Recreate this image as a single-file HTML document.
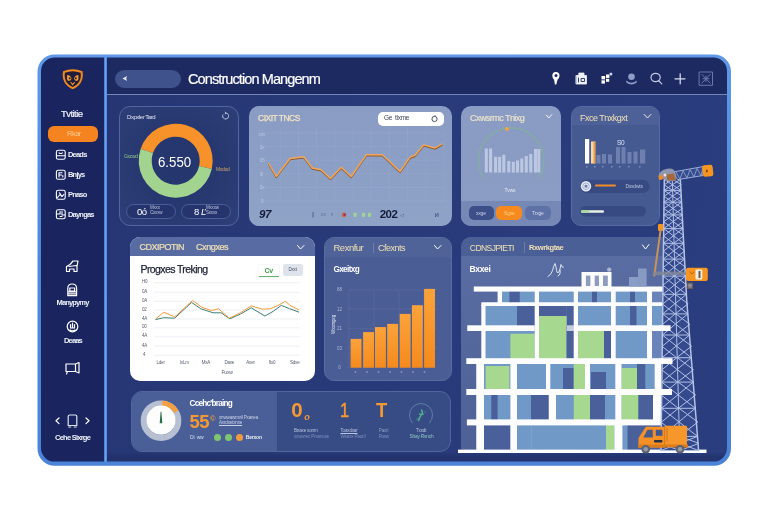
<!DOCTYPE html>
<html lang="en">
<head>
<meta charset="utf-8">
<title>Construction Management</title>
<style>
*{box-sizing:border-box;margin:0;padding:0}
html,body{width:768px;height:512px;overflow:hidden;background:#fff}
body{font-family:"Liberation Sans",sans-serif;color:#fff;position:relative}
.abs{position:absolute}
#frame{position:absolute;left:0;top:0;width:768px;height:512px}
#inner{position:absolute;left:40px;top:57px;width:688px;height:406px;border-radius:15px;background:linear-gradient(100deg,#253572 0%,#283978 35%,#2a3d7e 100%);overflow:hidden}
/* coordinates inside #inner are page coords minus (41,57) -> use wrapper shifted */
#cv{position:absolute;left:-40px;top:-57px;width:768px;height:512px}
#side{position:absolute;left:38px;top:54px;width:67px;height:412px;background:#1a255f}
#vdiv{position:absolute;left:104px;top:54px;width:3.400px;height:412px;background:linear-gradient(90deg,#3f74cc,#6aa2f0 50%,#4a84de)}
#head{position:absolute;left:107px;top:54px;width:625px;height:40px;background:#1d2a61}
#hline{position:absolute;left:107px;top:93.5px;width:625px;height:1px;background:#7485b8}
.card{position:absolute;border-radius:10px;overflow:hidden}
.t{position:absolute;white-space:nowrap;line-height:1}
.gold{color:#e3cf9c}
</style>
</head>
<body>
<div id="frame"><div id="inner"><div id="cv">
<div id="side"></div>
<div id="head"></div>
<div id="hline"></div>
<div id="vdiv"></div>

<div class="abs" style="left:107px;top:452px;width:625px;height:12px;background:linear-gradient(180deg,rgba(30,44,100,0),rgba(30,44,100,0.55) 40%)"></div>
<!--SIDEBAR-->
<svg class="abs" style="left:60px;top:66px" width="26" height="26" viewBox="60 66 26 26">
 <path d="M63 71.300 Q72.700 67.300 82.500 71.300 Q84.300 80 78.300 85.700 Q75 88.600 72.700 89.200 Q70.400 88.600 67.200 85.700 Q61.200 80 63 71.300 Z" fill="#f08a1d"/>
 <path d="M64.900 72.700 Q72.700 69.600 80.600 72.700 Q81.900 79.600 77 84.300 Q74.500 86.600 72.700 87.100 Q70.900 86.600 68.400 84.300 Q63.600 79.600 64.900 72.700 Z" fill="#1f1d38"/>
 <path d="M67.200 75 q3.300 0.300 4.300 3.300 q-0.300 2.400 -2.600 2.800 q-1.800 -0.500 -2 -2.500z M78.300 75 q-3.300 0.300 -4.300 3.300 q0.300 2.400 2.600 2.800 q1.800 -0.500 2 -2.500z" fill="#f39a35"/>
 <circle cx="69.700" cy="78.300" r="1" fill="#1f1d38"/><circle cx="75.800" cy="78.300" r="1" fill="#1f1d38"/>
 <path d="M71 82.500 l1.700 2.200 l1.700 -2.200" stroke="#f39a35" stroke-width="1.100" fill="none" stroke-linecap="round"/>
</svg>
<div class="t" style="left:61px;top:108.5px;font-size:9.500px;letter-spacing:-0.55px;color:#f0f3fa;-webkit-text-stroke:0.200px #f0f3fa">Tvtitie</div>
<div class="abs" style="left:47.5px;top:125.5px;width:50px;height:16.5px;border-radius:6px;background:#f5831f"></div>
<div class="t" style="left:67px;top:130.200px;font-size:7.500px;letter-spacing:-0.5px;color:#ffc98a">Rkar</div>
<svg class="abs" style="left:54px;top:148px" width="14" height="74" viewBox="54 148 14 74" fill="none" stroke="#fff" stroke-width="1.100" stroke-linejoin="round" stroke-linecap="round">
 <path d="M56.4 152.0 q0 -1.8 1.8 -1.8 h5.200 q1.800 0 1.800 1.800 v5.400 q0 1.800 -1.800 1.800 h-5.200 q-1.800 0 -1.800 -1.800z M56.600 155.800 h8.600 M59 152.800 q1.700 1.500 3.400 0"/>
 <path d="M56.4 172.0 q0 -1.8 1.8 -1.8 h5.200 q1.800 0 1.800 1.800 v5.400 q0 1.800 -1.800 1.800 h-5.200 q-1.800 0 -1.800 -1.800z M59 177 v-4.200 h3 M59 175 h2.500 M62.800 177 v-1.500"/>
 <path d="M56.4 192.1 q0 -1.8 1.8 -1.8 h5.200 q1.800 0 1.800 1.800 v5.400 q0 1.800 -1.800 1.800 h-5.200 q-1.800 0 -1.800 -1.800z M57.500 197.500 l2.500 -3 l2 2 l1.800 -1.800 M59.300 192.800 l1.500 1.500"/>
 <path d="M56.4 211.5 q0 -1.8 1.8 -1.8 h5.200 q1.800 0 1.800 1.800 v5.400 q0 1.800 -1.800 1.800 h-5.200 q-1.800 0 -1.800 -1.800z M56.600 214 h3.500 v-2.500 M62 211.500 v3.500 h2.800 M60 216.500 h2"/>
</svg>
<div class="t" style="left:68px;top:150.8px;font-size:7.500px;letter-spacing:-0.800px;color:#eef1f8;font-weight:bold">Deads</div>
<div class="t" style="left:68px;top:171px;font-size:7.500px;letter-spacing:-0.800px;color:#eef1f8;font-weight:bold">Bnjys</div>
<div class="t" style="left:68px;top:190.8px;font-size:7.500px;letter-spacing:-0.800px;color:#eef1f8;font-weight:bold">Pnaso</div>
<div class="t" style="left:68px;top:210.6px;font-size:7.500px;letter-spacing:-0.800px;color:#eef1f8;font-weight:bold">Dayngas</div>
<svg class="abs" style="left:60px;top:256px" width="26" height="124" viewBox="60 256 26 124" fill="none" stroke="#fff" stroke-width="1.200" stroke-linejoin="round" stroke-linecap="round">
 <!-- icon 1 (266) -->
 <path d="M66.500 271.500 v-5 l3.500 -2 l3 -3.500 h5 l-1 5.500 v5 h-3 v-2.500 h-4.500 v2.500 z M69 266.500 l7.500 -1"/>
 <!-- icon 2 (290) -->
 <path d="M67.800 295.700 v-7.500 q0 -4.200 4.400 -4.200 q4.400 0 4.400 4.200 v7.500 z M68 291.800 h8.500 M69.800 288 h4.800 v3 h-4.800z M68 293.800 h8.500"/>
 <!-- icon 3 (327) -->
 <circle cx="72.500" cy="326.500" r="5.300"/>
 <path d="M70.500 324.500 v3.500 h4 v-3.500 M72.500 323 v5 M70 330 q2.500 1.500 5 0"/>
 <!-- icon 4 (368) -->
 <path d="M66 364 h9.500 v7.500 h-9.500 z M75.500 364 l3.500 -1.500 v10.500 l-3.500 -1.500 M67.500 371.500 l-1 2.500"/>
</svg>
<div class="t" style="left:56.500px;top:299.200px;font-size:7.500px;letter-spacing:-0.850px;color:#eef1f8;font-weight:bold">Manypymy</div>
<div class="t" style="left:64px;top:336.500px;font-size:7.500px;letter-spacing:-0.850px;color:#eef1f8;font-weight:bold">Deaas</div>
<svg class="abs" style="left:52px;top:410px" width="42" height="22" viewBox="52 410 42 22" fill="none" stroke="#fff" stroke-width="1.200" stroke-linejoin="round" stroke-linecap="round">
 <path d="M59 418 l-3 2.800 l3 2.800 M86 418 l3 2.800 l-3 2.800"/>
 <path d="M68.200 425.500 v-9 q0 -1.500 1.500 -1.500 h5.600 q1.500 0 1.500 1.500 v9 z M68.700 427 h2 M74.300 427 h2" stroke="#dfe4f2"/>
</svg>
<div class="t" style="left:55px;top:434.300px;font-size:7.500px;letter-spacing:-0.750px;color:#eef1f8;font-weight:bold">Cehe Sixrge</div>

<!--HEADER-->
<div class="abs" style="left:115px;top:69.5px;width:66px;height:18px;border-radius:9px;background:#3f528b"></div>
<svg class="abs" style="left:121px;top:74px" width="9" height="9" viewBox="0 0 9 9"><path d="M1.500 4.500 L6 2 L5.200 4.500 L6 7 Z" fill="#e6eaf6"/></svg>
<div class="t" id="title" style="left:188px;top:72.400px;font-size:14.500px;letter-spacing:-0.900px;color:#fff;-webkit-text-stroke:0.200px #fff">Construction Mangenm</div>
<svg class="abs" style="left:546px;top:66px" width="172" height="24" viewBox="546 66 172 24" fill="none" stroke="#fff" stroke-width="1.400" stroke-linecap="round" stroke-linejoin="round">
 <path d="M555.800 72 a3.700 3.700 0 0 1 3.700 3.700 q0 2 -2 4 l-1.200 4.800 h-1.400 l-0.800 -4.800 q-1.800 -2 -1.800 -4 a3.700 3.700 0 0 1 3.500 -3.700z" fill="#fff" stroke="none"/>
 <circle cx="556" cy="75.600" r="1.500" fill="#1d2a61" stroke="none"/>
 <path d="M576.300 75.500 h10.200 v8.500 h-10.200 z M578.800 75.500 v-2.500 h5.200 v2.500" fill="#eef1f8" stroke="#eef1f8" stroke-width="0.800"/>
 <path d="M578.500 78 v4 M581.500 78.500 h3 v3 h-3z" stroke="#1d2a61" stroke-width="0.900"/>
 <g fill="#fff" stroke="none"><rect x="601.500" y="76" width="3.600" height="3.400"/><rect x="606" y="74.500" width="3.400" height="3.400"/><rect x="601.500" y="80.300" width="3.400" height="3.300"/><rect x="606" y="78.800" width="3.200" height="3"/><rect x="609.600" y="72.800" width="2.600" height="2.600" fill="#cfd6ea"/></g>
 <g stroke="none" fill="#8f9dc9"><circle cx="631.500" cy="76.700" r="3.300"/><path d="M626.300 80.500 q5.200 4.600 10.400 0 l0 2 q-5.200 4 -10.400 0z"/></g>
 <g stroke="#c4cce3" stroke-width="1.200"><ellipse cx="655.600" cy="77.500" rx="4.600" ry="4.200"/><path d="M658.500 80.500 L661.800 83.800"/></g>
 <path d="M675 78.800 h10 M680.200 73.800 v10" stroke="#d5dbee" stroke-width="1.300"/>
 <g stroke="#6878ad" stroke-width="1"><rect x="699.500" y="72" width="13" height="13.300"/><path d="M702 74.500 l8 8.500 M710 74.500 l-8 8.500 M703 78.700 h6 M706 76 v5.500"/></g>
</svg>

<!--CARD1-->
<div class="card" style="left:119px;top:105.500px;width:119.500px;height:120px;border-radius:11px;background:radial-gradient(ellipse at 50% 48%,#25356d 0%,#27376f 45%,#2e3f79 100%);border:1px solid #5165a0"></div>
<div class="t" style="left:127px;top:113.500px;font-size:6px;letter-spacing:-0.45px;color:#dfe5f3">Dxpxler Tard</div>
<svg class="abs" style="left:221px;top:111px" width="10" height="10" viewBox="0 0 10 10" fill="none" stroke="#cfd6ea" stroke-width="0.9"><path d="M2 3.500 a3 3 0 1 0 3 -1.500 M5 2 l-1.200 -1 M5 2 l-1 1.300"/></svg>
<svg class="abs" style="left:120px;top:106px" width="119" height="119" viewBox="120 106 119 119">
<path d="M140.61 148.96 A37 37 0 0 1 211.78 168.90 L199.10 166.02 A24 24 0 0 0 152.94 153.08 Z" fill="#f7922a"/><path d="M211.78 168.90 A37 37 0 1 1 140.61 148.96 L152.94 153.08 A24 24 0 1 0 199.10 166.02 Z" fill="#a3d48f"/>
</svg>
<div class="t" style="left:158.300px;top:153.500px;font-size:15.400px;letter-spacing:0;color:#fff;transform:scaleX(0.860);transform-origin:0 0">6.550</div>
<div class="t" style="left:124px;top:153.500px;font-size:5px;letter-spacing:-0.3px;color:#8fc48a">Gxcwd</div>
<div class="t" style="left:216px;top:166.500px;font-size:5px;letter-spacing:-0.3px;color:#c9a36a">Mxdod</div>
<div class="abs" style="left:126px;top:203.500px;width:50px;height:15px;border-radius:7.500px;border:1px solid #4a5e98;background:#25346c"></div>
<div class="abs" style="left:180.500px;top:203.500px;width:50px;height:15px;border-radius:7.500px;border:1px solid #4a5e98;background:#25346c"></div>
<div class="t" style="left:137px;top:206.500px;font-size:9.500px;letter-spacing:-0.5px;color:#fff">0ó</div>
<div class="t" style="left:150px;top:206px;font-size:4.500px;letter-spacing:-0.2px;color:#b6c0dc;line-height:1.05">Mxxx<br>Cxxxw</div>
<div class="t" style="left:194px;top:206.500px;font-size:9.500px;letter-spacing:-0.5px;color:#fff">8 <i>Ľ</i></div>
<div class="t" style="left:206px;top:206px;font-size:4.500px;letter-spacing:-0.2px;color:#b6c0dc;line-height:1.05">Mxxxw<br>Sxxxx</div>

<!--CARD2-->
<div class="card" style="left:248.700px;top:105.800px;width:203.200px;height:120.200px;border-radius:10px;background:linear-gradient(180deg,#8a9cc4 0%,#8c9fc5 60%,#8fa3c7 100%)"></div>
<svg class="abs" style="left:248px;top:105px" width="204" height="121" viewBox="248 105 204 121" fill="none">
<g stroke="#9aabcf" stroke-width="0.500" opacity="0.800"><path d="M262 133.0 H444" /><path d="M262 146.6 H444" /><path d="M262 160.2 H444" /><path d="M262 173.8 H444" /><path d="M262 187.4 H444" /><path d="M262 201.0 H444" /><path d="M262.0 127 V202" /><path d="M280.2 127 V202" /><path d="M298.4 127 V202" /><path d="M316.6 127 V202" /><path d="M334.8 127 V202" /><path d="M353.0 127 V202" /><path d="M371.2 127 V202" /><path d="M389.4 127 V202" /><path d="M407.6 127 V202" /><path d="M425.8 127 V202" /><path d="M444.0 127 V202" /></g>
<path d="M268.8 163.5 L276.2 176.5 L290.0 158.5 L303.8 156.8 L312.5 168.0 L321.2 169.8 L330.5 178.5 L341.2 167.2 L351.2 176.5 L366.2 154.8 L382.5 154.8 L400.0 171.5 L410.0 157.2 L415.0 155.2 L423.8 144.8 L435.0 148.0 L442.0 144.0" stroke="#8f5f33" stroke-width="1.500" stroke-linejoin="round" stroke-linecap="round" transform="translate(0,1)"/>
<path d="M268.8 163.5 L276.2 176.5 L290.0 158.5 L303.8 156.8 L312.5 168.0 L321.2 169.8 L330.5 178.5 L341.2 167.2 L351.2 176.5 L366.2 154.8 L382.5 154.8 L400.0 171.5 L410.0 157.2 L415.0 155.2 L423.8 144.8 L435.0 148.0 L442.0 144.0" stroke="#f3a65a" stroke-width="1.400" stroke-linejoin="round" stroke-linecap="round"/>
<circle cx="344" cy="214.800" r="2.400" fill="#d9623a"/><circle cx="344.600" cy="214.800" r="1.200" fill="#7a3b8a"/>
<rect x="353.500" y="212.700" width="3.200" height="4.200" rx="0.800" fill="#9fd392"/>
<rect x="362" y="212.700" width="3.200" height="4.200" rx="0.800" fill="#9fd392"/>
<rect x="368" y="212.700" width="3.200" height="4.200" rx="0.800" fill="#9fd392"/>
<path d="M313 212 v5.500" stroke="#3c4f88" stroke-width="0.800"/>
</svg>
<div class="t gold" style="left:258px;top:113.500px;font-size:8.500px;letter-spacing:-0.5px;color:#efe3c0;-webkit-text-stroke:0.250px #efe3c0">CIXIT TNCS</div>
<div class="abs" style="left:378px;top:111.500px;width:65.500px;height:14px;border-radius:5px;background:#fff"></div>
<div class="t" style="left:384px;top:115px;font-size:6.500px;letter-spacing:-0.3px;color:#3a4254">Ge &nbsp;tlxme</div>
<svg class="abs" style="left:430px;top:114px" width="9" height="9" viewBox="0 0 9 9" fill="none" stroke="#3a4254" stroke-width="0.900"><circle cx="4.500" cy="5" r="2.600"/><path d="M4.500 2.400 l0.800 -1.200"/></svg>
<div class="t" style="left:259px;top:209.300px;font-size:11.500px;letter-spacing:-0.5px;color:#141c3a;font-style:italic;font-weight:bold">97</div>
<div class="t" style="left:379.800px;top:209.300px;font-size:11.500px;letter-spacing:-0.6px;color:#141c3a;font-weight:bold">202</div>
<div class="t" style="left:400px;top:212.500px;font-size:5px;color:#4a5a8a">◁</div>
<div class="t" style="left:434.500px;top:210.500px;font-size:8px;color:#3c4f88">ᴎ</div>
<div class="t" style="left:321px;top:212.500px;font-size:4.500px;letter-spacing:0.3px;color:#5a6b9d">xx &nbsp;&nbsp;v</div>
<div class="t" style="left:258.500px;top:127.500px;font-size:4.500px;color:#bcc6de;line-height:13.400px">xxx<br>&nbsp;0x<br>&nbsp;05<br>&nbsp;0i<br>&nbsp;0x<br>&nbsp;&nbsp;0</div>

<!--CARD3-->
<div class="card" style="left:461px;top:106px;width:100px;height:120px;border-radius:10px;background:linear-gradient(180deg,#8a9bc4 0%,#8b9dc3 100%)">
 <div class="abs" style="left:0;top:94.500px;width:100px;height:26px;background:#7688b5"></div>
</div>
<svg class="abs" style="left:461px;top:105px" width="100" height="121" viewBox="461 105 100 121" fill="none">
 <path d="M483.51 178.5 A32.75 32.75 0 1 1 538.49 178.5" stroke="#7fb592" stroke-width="1.300" opacity="0.750"/>
 <circle cx="507" cy="129" r="2" fill="#f3a53c"/>
 <g fill="#c9d2ea" opacity="0.800"><rect x="484.8" y="148.5" width="3" height="24.0"/><rect x="489.1" y="148.5" width="3" height="24.0"/><rect x="494.1" y="156.8" width="3" height="15.8"/><rect x="498.1" y="156.8" width="3" height="15.8"/><rect x="502.3" y="154.8" width="3" height="17.8"/><rect x="507.3" y="161.0" width="3" height="11.5"/><rect x="511.8" y="161.8" width="3" height="10.8"/><rect x="516.0" y="160.5" width="3" height="12.0"/><rect x="520.3" y="158.5" width="3" height="14.0"/><rect x="524.8" y="156.0" width="3" height="16.5"/><rect x="529.3" y="154.0" width="3" height="18.5"/><rect x="534.0" y="149.0" width="3" height="23.5"/><rect x="537.3" y="149.0" width="3" height="23.5"/></g>
</svg>
<div class="t" style="left:470px;top:113.500px;font-size:9px;letter-spacing:-0.55px;color:#ebe3cc;-webkit-text-stroke:0.200px #ebe3cc">Cxwsrmc Tnixg</div>
<svg class="abs" style="left:545px;top:113px" width="9" height="7" viewBox="0 0 9 7" fill="none" stroke="#fff" stroke-width="0.900" stroke-linecap="round"><path d="M1.300 2 l2.500 3 l3 -3.400"/></svg>
<div class="t" style="left:504.500px;top:188px;font-size:5px;letter-spacing:-0.2px;color:#e3e8f5">Tvws</div>
<div class="abs" style="left:468.750px;top:206px;width:25px;height:13.750px;border-radius:5px;background:#3d4f88"></div>
<div class="abs" style="left:496.250px;top:206px;width:25.500px;height:13.750px;border-radius:5px;background:#f68a1f"></div>
<div class="abs" style="left:525px;top:206px;width:25.500px;height:13.750px;border-radius:5px;background:#5f72a7"></div>
<div class="t" style="left:476px;top:210.500px;font-size:5px;letter-spacing:-0.2px;color:#c7d0e8">xxge</div>
<div class="t" style="left:504px;top:210.500px;font-size:5px;letter-spacing:-0.2px;color:#ffd27a">Sgxe</div>
<div class="t" style="left:532px;top:210.500px;font-size:5px;letter-spacing:-0.2px;color:#d3daee">Trxge</div>

<!--CARD4-->
<div class="card" style="left:571px;top:106px;width:88.700px;height:120px;border-radius:10px;background:#465a92;border:1px solid #566ba2">
 <div class="abs" style="left:0;top:0;width:100%;height:18.300px;background:#4d6198"></div>
</div>
<div class="t" style="left:580px;top:113.500px;font-size:9px;letter-spacing:-0.5px;color:#efe0b4">Fxce Tnxkgxt</div>
<svg class="abs" style="left:643px;top:113px" width="9" height="7" viewBox="0 0 9 7" fill="none" stroke="#fff" stroke-width="0.900" stroke-linecap="round"><path d="M1.200 1.500 l3.300 3.500 l3.300 -3.500"/></svg>
<svg class="abs" style="left:571px;top:126px" width="89" height="100" viewBox="571 126 89 100">
 <rect x="585" y="139" width="4.200" height="24.500" fill="#fdfdfd"/>
 <rect x="591" y="141.500" width="4.300" height="22" fill="#f5d9a8"/><rect x="593.500" y="141.500" width="1.800" height="22" fill="#f39a3a"/>
 <g fill="#6f80b0">
  <rect x="596.500" y="155" width="4" height="8.500"/><rect x="602" y="154" width="4" height="9.500"/><rect x="608" y="154.500" width="4" height="9"/>
  <rect x="616" y="147" width="4" height="16.500"/><rect x="621.500" y="147" width="4" height="16.500"/><rect x="627.500" y="152" width="4" height="11.500"/><rect x="633.500" y="151.500" width="4" height="12"/><rect x="640" y="149.500" width="5.200" height="14"/>
 </g>
 <g fill="#7f90bd"><rect x="586" y="166" width="1.500" height="1.500"/><rect x="594" y="166" width="1.500" height="1.500"/><rect x="602" y="166" width="1.500" height="1.500"/><rect x="611" y="166" width="1.500" height="1.500"/><rect x="619" y="166" width="1.500" height="1.500"/><rect x="628" y="166" width="1.500" height="1.500"/><rect x="639" y="166" width="1.500" height="1.500"/></g>
 <rect x="580" y="179.750" width="69.500" height="13.250" rx="6.600" fill="#384a82"/>
 <circle cx="586" cy="186.200" r="5.200" fill="#e9edf6"/><circle cx="586" cy="186.200" r="3.300" fill="none" stroke="#8a98be" stroke-width="0.800"/><rect x="584.600" y="184.800" width="2.800" height="2.800" fill="#6a7bab"/>
 <rect x="595" y="184.500" width="21" height="2" rx="1" fill="#f28c28"/>
 <rect x="580" y="206" width="66" height="10.500" rx="5.200" fill="#384a82"/>
 <rect x="581" y="210.300" width="23" height="2.400" rx="1.200" fill="#e8f0e6"/><rect x="581" y="210.300" width="8" height="2.400" rx="1.200" fill="#a9d99b"/>
</svg>
<div class="t" style="left:617px;top:139.800px;font-size:6.500px;letter-spacing:-0.4px;color:#dfe5f3">S0</div>
<div class="t" style="left:625.500px;top:184px;font-size:5px;letter-spacing:-0.25px;color:#b9c3df">Dxxdwts</div>

<!--CARD5-->
<div class="card" style="left:130px;top:236.750px;width:184.750px;height:144.250px;border-radius:10px;background:#fff">
 <div class="abs" style="left:0;top:0;width:100%;height:19.500px;background:#586ca3"></div>
</div>
<div class="t" style="left:139.500px;top:243.200px;font-size:9px;letter-spacing:-0.5px;color:#efe0b4;-webkit-text-stroke:0.200px #efe0b4">CDXIPOTIN</div>
<div class="t" style="left:196px;top:243.200px;font-size:9px;letter-spacing:-0.4px;color:#efe0b4;-webkit-text-stroke:0.200px #efe0b4">Cxngxes</div>
<svg class="abs" style="left:296px;top:244px" width="10" height="7" viewBox="0 0 10 7" fill="none" stroke="#fff" stroke-width="1" stroke-linecap="round"><path d="M1.500 1.500 l3 3.500 l3.500 -3.500"/></svg>
<div class="t" style="left:140.500px;top:264px;font-size:10.500px;letter-spacing:-0.600px;color:#1b2233;-webkit-text-stroke:0.250px #1b2233">Progxes Treking</div>
<div class="abs" style="left:259px;top:265px;width:19.500px;height:11.700px;background:#fff;border-bottom:1px solid #69b36b;box-shadow:0 0 1px #cfd6df"></div>
<div class="t" style="left:264.500px;top:267px;font-size:7px;letter-spacing:-0.3px;color:#3f9a4b;font-weight:bold">Cv</div>
<div class="abs" style="left:283px;top:264.400px;width:19.500px;height:11.500px;border-radius:2px;background:#dfe3ec"></div>
<div class="t" style="left:288.500px;top:268px;font-size:4.500px;letter-spacing:-0.2px;color:#4a5266">Dxxt</div>
<svg class="abs" style="left:130px;top:256px" width="185" height="125" viewBox="130 256 185 125" fill="none">
 <g stroke="#e3e6ed" stroke-width="0.600"><path d="M154 282.7 H300.500"/><path d="M154 292.3 H300.500"/><path d="M154 301.3 H300.500"/><path d="M154 310 H300.500"/><path d="M154 319 H300.500"/><path d="M154 327.8 H300.500"/><path d="M154 336.8 H300.500"/><path d="M154 346.1 H300.500"/><path d="M154 355.2 H300.500"/></g>
 <path d="M155.5 319.6 L163.8 317.7 L174.7 318.2 L191.6 302.4 L200.7 308.7 L213.0 312.8 L221.2 312.8 L229.9 318.8 L240.3 314.1 L251.3 307.8 L264.9 316.1 L273.1 311.4 L281.3 305.4 L289.5 308.7 L299.1 312.2" stroke="#3f7f78" stroke-width="1" stroke-linejoin="round"/>
 <path d="M155.5 319.1 L163.8 312.2 L174.7 316.9 L192.5 300.5 L202.0 307.3 L211.6 310.6 L218.4 308.7 L229.4 318.2 L240.3 312.8 L251.3 305.9 L262.2 309.2 L270.4 308.7 L277.2 305.9 L285.4 301.3 L290.9 305.9 L299.1 310.0" stroke="#f29a3a" stroke-width="1" stroke-linejoin="round"/>
</svg>
<div class="t" style="left:142px;top:280.2px;font-size:4.500px;letter-spacing:-0.2px;color:#555d70">H0</div><div class="t" style="left:142px;top:289.8px;font-size:4.500px;letter-spacing:-0.2px;color:#555d70">0A</div><div class="t" style="left:142px;top:298.8px;font-size:4.500px;letter-spacing:-0.2px;color:#555d70">0A</div><div class="t" style="left:142px;top:307.5px;font-size:4.500px;letter-spacing:-0.2px;color:#555d70">02</div><div class="t" style="left:142px;top:316.5px;font-size:4.500px;letter-spacing:-0.2px;color:#555d70">4A</div><div class="t" style="left:142px;top:325.3px;font-size:4.500px;letter-spacing:-0.2px;color:#555d70">00</div><div class="t" style="left:142px;top:334.3px;font-size:4.500px;letter-spacing:-0.2px;color:#555d70">4A</div><div class="t" style="left:142px;top:343.6px;font-size:4.500px;letter-spacing:-0.2px;color:#555d70">4A</div><div class="t" style="left:142px;top:352.7px;font-size:4.500px;letter-spacing:-0.2px;color:#555d70">&nbsp;4</div><div class="t" style="left:156.5px;top:361px;font-size:4.500px;letter-spacing:-0.2px;color:#555d70">Lder</div><div class="t" style="left:179.8px;top:361px;font-size:4.500px;letter-spacing:-0.2px;color:#555d70">IxLm</div><div class="t" style="left:201.7px;top:361px;font-size:4.500px;letter-spacing:-0.2px;color:#555d70">MxA</div><div class="t" style="left:224.4px;top:361px;font-size:4.500px;letter-spacing:-0.2px;color:#555d70">Daxe</div><div class="t" style="left:246.3px;top:361px;font-size:4.500px;letter-spacing:-0.2px;color:#555d70">Axer</div><div class="t" style="left:268.7px;top:361px;font-size:4.500px;letter-spacing:-0.2px;color:#555d70">6x0</div><div class="t" style="left:290.0px;top:361px;font-size:4.500px;letter-spacing:-0.2px;color:#555d70">Sdxe</div>
<div class="t" style="left:221.500px;top:369.500px;font-size:5px;letter-spacing:-0.2px;color:#555d70">Fuxw</div>

<!--CARD6-->
<div class="card" style="left:324px;top:236.750px;width:127.500px;height:143.750px;border-radius:10px;background:#4a5d94;border:1px solid #586ca2">
 <div class="abs" style="left:0;top:0;width:100%;height:19.500px;background:#4f6399"></div>
</div>
<div class="t" style="left:333.500px;top:243.300px;font-size:9.500px;letter-spacing:-0.5px;color:#efe0b4">Rexnfur</div>
<div class="abs" style="left:373px;top:243px;width:1px;height:10px;background:#6a7cb0"></div>
<div class="t" style="left:378px;top:243.800px;font-size:9px;letter-spacing:-0.5px;color:#efe0b4">Cfexnts</div>
<svg class="abs" style="left:433px;top:244px" width="10" height="7" viewBox="0 0 10 7" fill="none" stroke="#fff" stroke-width="1" stroke-linecap="round"><path d="M1.500 1.500 l3 3.500 l3.500 -3.500"/></svg>
<div class="t" style="left:333.400px;top:266.300px;font-size:8.200px;letter-spacing:-0.600px;color:#fff;font-weight:bold">Gxeitxg</div>
<svg class="abs" style="left:324px;top:256px" width="128" height="125" viewBox="324 256 128 125" fill="none">
 <defs><linearGradient id="bg6" x1="0" y1="0" x2="0" y2="1"><stop offset="0" stop-color="#fba33a"/><stop offset="1" stop-color="#f58a1c"/></linearGradient></defs>
 <g stroke="#5b6da3" stroke-width="0.600"><path d="M348 290 H437"/><path d="M348 309 H437"/><path d="M348 328.6 H437"/><path d="M348 348 H437"/><path d="M348 367.7 H437"/><path d="M349 290 V367.700"/><path d="M374 290 V367.700"/><path d="M399 290 V367.700"/><path d="M424 290 V367.700"/></g>
 <rect x="350.6" y="338.9" width="10.9" height="28.8" fill="url(#bg6)"/><rect x="363.1" y="332.1" width="10.9" height="35.6" fill="url(#bg6)"/><rect x="375.0" y="327.1" width="10.9" height="40.6" fill="url(#bg6)"/><rect x="387.2" y="323.9" width="10.9" height="43.8" fill="url(#bg6)"/><rect x="399.7" y="313.9" width="10.9" height="53.8" fill="url(#bg6)"/><rect x="411.9" y="305.2" width="10.9" height="62.5" fill="url(#bg6)"/><rect x="424.1" y="288.9" width="10.9" height="78.8" fill="url(#bg6)"/>
</svg>
<div class="t" style="left:337px;top:280.300px;font-size:4.500px;color:#aeb9d8;line-height:19.400px">88<br>12<br>21<br>03<br>&nbsp;0</div>
<div class="t" style="left:331.500px;top:333.500px;font-size:4.500px;color:#e3e8f5;transform:rotate(-90deg);transform-origin:0 0;letter-spacing:-0.1px">Wxxmgxg</div>
<div class="t" style="left:354.500px;top:369.500px;font-size:4px;color:#aeb9d8;letter-spacing:9.500px">xxxxxxx</div>

<!--CARD7-->
<div class="card" style="left:461px;top:237px;width:203px;height:214px;border-radius:10px 0 0 4px;background:linear-gradient(180deg,#5a6ea3 0%,#55699e 40%,#4e6197 100%)">
 <div class="abs" style="left:0;top:0;width:100%;height:18.500px;background:#4b5f97"></div>
</div>
<div class="t" style="left:469.800px;top:243.500px;font-size:8.500px;letter-spacing:-0.55px;color:#efe0b4">CDNSJPIETI</div>
<div class="abs" style="left:524px;top:242px;width:1px;height:11px;background:#6a7cb0"></div>
<div class="t" style="left:529px;top:244px;font-size:7.500px;letter-spacing:-0.4px;color:#efe0b4;font-weight:bold">Rxwrkgtae</div>
<svg class="abs" style="left:641px;top:243px" width="10" height="8" viewBox="0 0 10 8" fill="none" stroke="#fff" stroke-width="1" stroke-linecap="round"><path d="M1.500 2 l3 4 l3.500 -4.500"/></svg>
<div class="t" style="left:469.500px;top:264.800px;font-size:8.500px;letter-spacing:-0.35px;color:#fff;font-weight:bold">Bxxei</div>
<svg class="abs" style="left:545px;top:260px" width="24" height="20" viewBox="545 260 24 20" fill="none" stroke="#f0f3fa" stroke-width="0.900" stroke-linecap="round" stroke-linejoin="round"><path d="M548 276.500 q3 -1 4.500 -6 q1.200 -5 2.500 -7 q1 2 1.500 7 q0.500 3 2 2 q1.500 -2 2.500 -8 q1.500 4 2.500 3 M560 270 q1 5 -2 6"/></svg>
<svg class="abs" style="left:456px;top:262px" width="256" height="194" viewBox="456 262 256 194" shape-rendering="geometricPrecision">
<rect x="502.00" y="291.00" width="161.00" height="12.00" fill="#7199c8"/>
<rect x="485.60" y="305.00" width="177.40" height="21.00" fill="#7199c8"/>
<rect x="485.60" y="330.00" width="176.40" height="29.00" fill="#7199c8"/>
<rect x="484.00" y="363.00" width="177.00" height="27.00" fill="#7199c8"/>
<rect x="484.00" y="394.00" width="177.00" height="26.00" fill="#7199c8"/>
<rect x="484.00" y="424.50" width="177.00" height="25.50" fill="#7199c8"/>
<rect x="509.40" y="291.00" width="10.35" height="12.00" fill="#4a609a"/>
<rect x="592.00" y="291.00" width="5.00" height="12.00" fill="#4a609a"/>
<rect x="630.00" y="291.00" width="5.00" height="12.00" fill="#4a609a"/>
<rect x="652.00" y="291.00" width="11.00" height="12.00" fill="#6a84b9"/>
<rect x="517.00" y="305.00" width="17.75" height="21.00" fill="#4a609a"/>
<rect x="539.00" y="305.00" width="27.60" height="12.00" fill="#4a609a"/>
<rect x="630.00" y="305.00" width="6.50" height="21.00" fill="#4a609a"/>
<rect x="566.60" y="305.00" width="7.15" height="21.00" fill="#4a609a"/>
<rect x="539.00" y="316.00" width="27.60" height="43.00" fill="#a6d890"/>
<rect x="510.40" y="333.75" width="24.35" height="25.25" fill="#a6d890"/>
<rect x="566.60" y="326.00" width="7.15" height="33.00" fill="#4a609a"/>
<rect x="578.00" y="330.00" width="26.00" height="29.00" fill="#a6d890"/>
<rect x="604.00" y="330.00" width="7.00" height="29.00" fill="#4a609a"/>
<rect x="652.00" y="330.00" width="10.00" height="29.00" fill="#6a84b9"/>
<rect x="485.60" y="366.00" width="23.80" height="24.00" fill="#a6d890"/>
<rect x="563.00" y="368.00" width="10.75" height="22.00" fill="#4a609a"/>
<rect x="573.75" y="364.00" width="11.25" height="26.00" fill="#a6d890"/>
<rect x="591.00" y="372.00" width="15.00" height="18.00" fill="#4a609a"/>
<rect x="621.50" y="368.00" width="15.50" height="22.00" fill="#a6d890"/>
<rect x="637.00" y="364.00" width="8.30" height="26.00" fill="#4a609a"/>
<rect x="491.25" y="394.00" width="6.35" height="26.00" fill="#4a609a"/>
<rect x="531.00" y="394.00" width="17.80" height="26.00" fill="#4a609a"/>
<rect x="573.75" y="394.00" width="16.25" height="26.00" fill="#a6d890"/>
<rect x="590.00" y="394.00" width="15.00" height="26.00" fill="#4a609a"/>
<rect x="621.50" y="394.00" width="16.90" height="26.00" fill="#a6d890"/>
<rect x="638.40" y="394.00" width="14.60" height="26.00" fill="#4a609a"/>
<rect x="484.00" y="424.50" width="26.40" height="25.50" fill="#4a609a"/>
<rect x="606.00" y="424.50" width="8.40" height="25.50" fill="#a6d890"/>
<rect x="627.50" y="424.50" width="33.50" height="25.50" fill="#4a609a"/>
<path d="M531.400 425.400 V449.600" stroke="#8aa9d2" stroke-width="0.500"/>
<rect x="473.80" y="286.50" width="189.20" height="5.10" fill="#fdfdfe"/>
<rect x="481.30" y="302.25" width="181.45" height="3.75" fill="#fdfdfe"/>
<rect x="467.25" y="325.30" width="67.50" height="5.70" fill="#fdfdfe"/>
<rect x="566.60" y="325.30" width="7.15" height="5.70" fill="#c5cde0"/>
<rect x="573.75" y="325.30" width="96.85" height="5.70" fill="#fdfdfe"/>
<rect x="466.30" y="358.20" width="206.20" height="5.80" fill="#fdfdfe"/>
<rect x="466.30" y="389.00" width="205.70" height="6.00" fill="#fdfdfe"/>
<rect x="466.90" y="419.40" width="194.10" height="6.00" fill="#fdfdfe"/>
<rect x="497.60" y="291.00" width="4.40" height="12.00" fill="#fdfdfe"/>
<rect x="534.75" y="291.00" width="4.25" height="12.00" fill="#fdfdfe"/>
<rect x="573.75" y="291.00" width="4.25" height="12.00" fill="#fdfdfe"/>
<rect x="611.00" y="291.00" width="4.70" height="12.00" fill="#fdfdfe"/>
<rect x="647.00" y="291.00" width="5.00" height="12.00" fill="#fdfdfe"/>
<rect x="481.30" y="305.00" width="4.30" height="54.00" fill="#fdfdfe"/>
<rect x="573.75" y="305.00" width="4.25" height="54.00" fill="#fdfdfe"/>
<rect x="611.00" y="305.00" width="4.70" height="54.00" fill="#fdfdfe"/>
<rect x="647.00" y="305.00" width="5.00" height="54.00" fill="#fdfdfe"/>
<rect x="534.75" y="305.00" width="4.25" height="54.00" fill="#fdfdfe"/>
<rect x="476.25" y="363.00" width="7.75" height="27.00" fill="#fdfdfe"/>
<rect x="510.40" y="363.00" width="6.60" height="27.00" fill="#fdfdfe"/>
<rect x="546.00" y="363.00" width="4.30" height="27.00" fill="#fdfdfe"/>
<rect x="585.00" y="363.00" width="5.00" height="27.00" fill="#fdfdfe"/>
<rect x="615.30" y="363.00" width="6.20" height="27.00" fill="#fdfdfe"/>
<rect x="654.70" y="363.00" width="6.30" height="27.00" fill="#fdfdfe"/>
<rect x="476.25" y="394.00" width="7.75" height="26.00" fill="#fdfdfe"/>
<rect x="510.40" y="394.00" width="6.60" height="26.00" fill="#fdfdfe"/>
<rect x="548.80" y="394.00" width="7.20" height="26.00" fill="#fdfdfe"/>
<rect x="615.30" y="394.00" width="6.20" height="26.00" fill="#fdfdfe"/>
<rect x="653.00" y="394.00" width="8.00" height="26.00" fill="#fdfdfe"/>
<rect x="476.25" y="424.50" width="7.75" height="25.50" fill="#fdfdfe"/>
<rect x="510.40" y="424.50" width="6.60" height="25.50" fill="#fdfdfe"/>
<rect x="614.40" y="424.50" width="8.00" height="25.50" fill="#fdfdfe"/>
<rect x="581.50" y="272.00" width="30.00" height="15.00" fill="#fdfdfe"/>
<rect x="585.90" y="275.60" width="4.50" height="10.40" fill="#8e9dbd"/>
<rect x="594.70" y="275.60" width="4.30" height="10.40" fill="#8e9dbd"/>
<rect x="603.00" y="275.60" width="4.80" height="10.40" fill="#8e9dbd"/>
<rect x="629.00" y="277.00" width="9.00" height="9.50" fill="#8a9dc6"/>
<rect x="638.00" y="268.50" width="8.60" height="18.00" fill="#879ac1"/>
<circle cx="609.200" cy="269.600" r="2.200" fill="#a9b3ca"/>
<rect x="458.00" y="449.60" width="248.50" height="3.40" fill="#fdfdfe"/>
</svg>

<!--CARD8-->
<div class="card" style="left:131px;top:391px;width:320px;height:61px;border-radius:11px;background:#374b85;border:1px solid #52669d">
 <div class="abs" style="left:0;top:0;width:144.800px;height:100%;background:#4a5f97"></div>
</div>
<svg class="abs" style="left:138px;top:398px" width="46" height="46" viewBox="138 398 46 46" fill="none">
 <circle cx="161" cy="420.700" r="17.300" stroke="#b7bfd2" stroke-width="6"/>
 <path d="M162.23 403.04 A17.7 17.7 0 0 1 176.33 411.85" stroke="#f5a040" stroke-width="5"/>
 <circle cx="161" cy="420.200" r="14.600" fill="#fdfdfd"/>
 <path d="M159.700 423.200 L160.600 411.800 L161.400 411.800 L162.300 423.200 Z" fill="#2c6e45"/>
</svg>
<div class="t" style="left:189.500px;top:400px;font-size:8.200px;letter-spacing:-0.75px;color:#fff;font-weight:bold">Ccehc'braing</div>
<div class="t" style="left:189.600px;top:413.300px;font-size:18.500px;letter-spacing:-0.6px;color:#f59a33;font-weight:bold">55</div>
<div class="t" style="left:210px;top:414.800px;font-size:7.500px;color:#f59a33;font-weight:bold">©</div>
<div class="t" style="left:219px;top:416px;font-size:4.500px;letter-spacing:-0.15px;color:#c9d1e8">xnwwawrnvil Pxanea</div>
<div class="t" style="left:219px;top:420.500px;font-size:4.500px;letter-spacing:-0.15px;color:#c9d1e8;text-decoration:underline">Axrdxetxnxe</div>
<div class="t" style="left:190px;top:435px;font-size:5px;letter-spacing:-0.2px;color:#d7ddee">Di &nbsp;ww</div>
<div class="abs" style="left:214.100px;top:434.100px;width:7px;height:7px;border-radius:50%;background:#7fc56f"></div>
<div class="abs" style="left:225px;top:434.100px;width:7px;height:7px;border-radius:50%;background:#7fc56f"></div>
<div class="abs" style="left:235.500px;top:434.100px;width:7px;height:7px;border-radius:50%;background:#f29a3c"></div>
<div class="t" style="left:245.800px;top:435px;font-size:5px;letter-spacing:-0.2px;color:#e6eaf6;font-weight:bold">Berxon</div>

<div class="t" style="left:291.300px;top:400.300px;font-size:20.500px;letter-spacing:-0.5px;color:#f59a33;font-weight:bold">0</div>
<div class="t" style="left:304.300px;top:412.500px;font-size:9px;color:#f59a33;font-weight:bold;font-style:italic">o</div>
<div class="t" style="left:340.300px;top:400.300px;font-size:20.500px;color:#f59a33;-webkit-text-stroke:0.500px #f59a33;transform:scaleX(0.800);transform-origin:0 0">1</div>
<div class="t" style="left:376px;top:400.300px;font-size:20.500px;color:#f59a33;font-weight:bold;transform:scaleX(0.900);transform-origin:0 0">T</div>
<div class="t" style="left:294px;top:428.500px;font-size:4.500px;letter-spacing:-0.15px;color:#b9c3df">Bnaxe xonm</div>
<div class="t" style="left:294px;top:434.800px;font-size:4.500px;letter-spacing:-0.15px;color:#7f8fbd">xxwwrec Prxanoxe</div>
<div class="t" style="left:340.500px;top:428.500px;font-size:4.500px;letter-spacing:-0.15px;color:#b9c3df;text-decoration:underline">Toaxdxar</div>
<div class="t" style="left:340.500px;top:434.800px;font-size:4.500px;letter-spacing:-0.15px;color:#7f8fbd">Weaxx Paunf</div>
<div class="t" style="left:378.800px;top:428.500px;font-size:4.500px;letter-spacing:-0.15px;color:#8f9dc7">Paxrl</div>
<div class="t" style="left:378.800px;top:434.800px;font-size:4.500px;letter-spacing:-0.15px;color:#7f8fbd">Rxwx</div>
<svg class="abs" style="left:407px;top:401px" width="28" height="28" viewBox="407 401 28 28" fill="none" stroke-linecap="round">
 <path d="M412.500 423 A11.600 11.600 0 1 1 429.500 423" stroke="#5f86a6" stroke-width="0.900"/>
 <path d="M421.500 410 q2 3 -0.500 5.500 q-2 2.500 -2.500 5 M419.500 414 q1.500 1 3.500 0" stroke="#4fb08e" stroke-width="1.500"/>
 <circle cx="425" cy="412" r="0.600" fill="#4fb08e"/><circle cx="417" cy="419" r="0.600" fill="#4fb08e"/>
</svg>
<div class="t" style="left:416px;top:428.500px;font-size:4.500px;letter-spacing:-0.15px;color:#b9c3df">Txxdt</div>
<div class="t" style="left:409.500px;top:434.500px;font-size:4.800px;letter-spacing:-0.2px;color:#8fc7c0">Shay Rsnch</div>

<!--CRANE-->
<svg class="abs" style="left:636px;top:160px" width="90" height="300" viewBox="636 160 90 300" fill="none" stroke-linejoin="round" stroke-linecap="round">
 <path d="M664.3 179.4 L680.3 179.4 L686.7 300 L698.6 450.5 L661.0 450.5 Z" fill="#354a8c"/>
 <path d="M664.3 179.4 L680.9 190.4 M680.3 179.4 L664.2 190.4 M664.3 190.4 H680.9 M672.3 179.4 L664.2 184.9 L672.5 190.4 L680.9 184.9 Z M664.2 190.4 L681.5 202.2 M680.9 190.4 L664.0 202.2 M664.2 202.2 H681.5 M672.5 190.4 L664.0 196.3 L672.8 202.2 L681.5 196.3 Z M664.0 202.2 L682.2 214.9 M681.5 202.2 L663.9 214.9 M664.0 214.9 H682.2 M672.8 202.2 L663.9 208.6 L673.0 214.9 L682.2 208.6 Z M663.9 214.9 L682.9 228.6 M682.2 214.9 L663.7 228.6 M663.9 228.6 H682.9 M673.0 214.9 L663.7 221.8 L673.3 228.6 L682.9 221.8 Z M663.7 228.6 L683.7 243.3 M682.9 228.6 L663.5 243.3 M663.7 243.3 H683.7 M673.3 228.6 L663.5 235.9 L673.6 243.3 L683.7 235.9 Z M663.5 243.3 L684.5 259.1 M683.7 243.3 L663.3 259.1 M663.5 259.1 H684.5 M673.6 243.3 L663.3 251.2 L673.9 259.1 L684.5 251.2 Z M663.3 259.1 L685.4 276.1 M684.5 259.1 L663.1 276.1 M663.3 276.1 H685.4 M673.9 259.1 L663.1 267.6 L674.3 276.1 L685.4 267.6 Z M663.1 276.1 L686.4 294.3 M685.4 276.1 L662.9 294.3 M663.1 294.3 H686.4 M674.3 276.1 L662.9 285.2 L674.6 294.3 L686.4 285.2 Z M662.9 294.3 L687.8 313.9 M686.4 294.3 L662.7 313.9 M662.9 313.9 H687.8 M674.6 294.3 L662.7 304.1 L675.2 313.9 L687.8 304.1 Z M662.7 313.9 L689.5 335.0 M687.8 313.9 L662.4 335.0 M662.7 335.0 H689.5 M675.2 313.9 L662.4 324.5 L675.9 335.0 L689.5 324.5 Z M662.4 335.0 L691.3 357.7 M689.5 335.0 L662.1 357.7 M662.4 357.7 H691.3 M675.9 335.0 L662.1 346.4 L676.7 357.7 L691.3 346.4 Z M662.1 357.7 L693.2 382.1 M691.3 357.7 L661.8 382.1 M662.1 382.1 H693.2 M676.7 357.7 L661.8 369.9 L677.5 382.1 L693.2 369.9 Z M661.8 382.1 L695.3 408.3 M693.2 382.1 L661.5 408.3 M661.8 408.3 H695.3 M677.5 382.1 L661.5 395.2 L678.4 408.3 L695.3 395.2 Z M661.5 408.3 L697.5 436.4 M695.3 408.3 L661.2 436.4 M661.5 436.4 H697.5 M678.4 408.3 L661.2 422.3 L679.3 436.4 L697.5 422.3 Z M661.2 436.4 L698.6 450.5 M697.5 436.4 L661.0 450.5 M661.2 450.5 H698.6 M679.3 436.4 L661.0 443.5 L679.8 450.5 L698.6 443.5 Z" stroke="#b0bfe4" stroke-width="1"/>
 <path d="M672.3 179.4 L679.8 450.5" stroke="#b0bfe4" stroke-width="1"/>
 <path d="M664.3 179.4 L661.0 450.5 M680.3 179.4 L686.7 300 L698.6 450.5" stroke="#b5c3e6" stroke-width="1.500"/>
 <!-- jib -->
 <path d="M673 172 L703 166.600 L703 175.500 L678 179.600 Z" fill="#364b8b" stroke="#9aacd9" stroke-width="1"/>
 <path d="M676 172 l4 7 l3 -8.300 l4 7.300 l3 -8.500 l4 7.500 l3 -8.700 l4 7.500 l2 -8" stroke="#97a9d8" stroke-width="0.800"/>
 <!-- end piece -->
 <rect x="702.500" y="165" width="10.500" height="11.500" rx="2.500" fill="#f6951f" transform="rotate(-6 707.700 170.700)"/>
 <ellipse cx="706.800" cy="171" rx="1" ry="1.600" fill="#7a4a1a"/>
 <!-- head cab -->
 <path d="M658.500 176 q1 -5 6 -6.500 q6 -2 9.500 0.500 l2.500 6 l-1.500 5 h-9 l-2 -2.500 l-4 1.500 z" fill="#8f97b0"/>
 <path d="M666 174.500 l8 -1 l2 7 h-8.500 z" fill="#a5683a"/>
 <path d="M658.300 176 l4 -1.500 l1.500 4 l-4.500 1.800 z" fill="#e98a2c"/>
 <circle cx="665" cy="175" r="1.500" fill="#e6e9f0"/>
 <!-- orange pole -->
 <rect x="658" y="224" width="5.200" height="7" rx="1" fill="#f6951f"/>
 <path d="M660.600 230 L654.300 275.500" stroke="#c8925a" stroke-width="2"/>
 <!-- grey arm -->
 <path d="M653.500 273.300 H687" stroke="#83889a" stroke-width="3.400" stroke-linecap="butt" opacity="0.850"/>
 <!-- cab -->
 <rect x="686" y="267.800" width="21.800" height="13.200" rx="2" fill="#f6951f"/>
 <rect x="695.500" y="269.500" width="6.800" height="10" rx="1" fill="#f1efe8"/>
 <rect x="698.500" y="271" width="2" height="7" fill="#6b5a46"/>
 <path d="M690 272 q2 4 4 0" stroke="#b25f14" stroke-width="0.900"/>
 <rect x="687" y="282.500" width="6" height="6.500" fill="#6b5a55"/><rect x="688.300" y="283.800" width="3.400" height="3.800" fill="#8c8f9c"/>
<rect x="659" y="325.300" width="11.600" height="5.700" fill="#fdfdfe"/><rect x="659" y="358.200" width="13.500" height="5.800" fill="#fdfdfe"/><rect x="659" y="389" width="13" height="6" fill="#fdfdfe"/>
 <!-- truck -->
 <rect x="664.500" y="425.700" width="22.500" height="20" rx="1" fill="#f7962a"/>
 <path d="M638.500 447.500 V438 L645.500 427.200 Q646 426.700 647 426.700 H665 V447.500 Z" fill="#f49026"/>
 <path d="M643.300 437.600 L647.500 429.800 H652.800 V437.600 Z" fill="#465a8c"/>
 <rect x="655.800" y="429.800" width="6.600" height="6" fill="#3f5590"/>
 <rect x="654" y="440" width="8.400" height="2.500" rx="0.800" fill="#2a2f3f"/>
 <path d="M664.700 427 V446" stroke="#c7741a" stroke-width="0.800"/>
 <path d="M667 428 V441" stroke="#c7741a" stroke-width="1"/>
 <rect x="638" y="444.500" width="50" height="3" fill="#d97d1c"/>
 <circle cx="645.700" cy="449.300" r="4.300" fill="#5c6170"/><circle cx="645.700" cy="449.300" r="2.300" fill="#9299a8"/>
 <circle cx="680" cy="449.300" r="4.300" fill="#5c6170"/><circle cx="680" cy="449.300" r="2.300" fill="#9299a8"/>
</svg>

</div></div>
<svg class="abs" style="left:0;top:0;pointer-events:none" width="768" height="512" viewBox="0 0 768 512">
 <defs><linearGradient id="fb" x1="0" y1="0" x2="0" y2="1"><stop offset="0" stop-color="#5f98e8"/><stop offset="0.5" stop-color="#4d88dd"/><stop offset="1" stop-color="#4a83d8"/></linearGradient></defs>
 <path fill-rule="evenodd" fill="url(#fb)" d="M54.5 54.5 H714 A17 17 0 0 1 731 71.5 V448.8 A17 17 0 0 1 714 465.8 H54.5 A17 17 0 0 1 37.5 448.8 V71.5 A17 17 0 0 1 54.5 54.5 Z M54.5 57.5 H713.5 A13.5 13.5 0 0 1 727 71.0 V448.1 A13.5 13.5 0 0 1 713.5 461.6 H54.5 A13.5 13.5 0 0 1 41 448.1 V71.0 A13.5 13.5 0 0 1 54.5 57.5 Z"/>
</svg>
</div>
</body>
</html>
